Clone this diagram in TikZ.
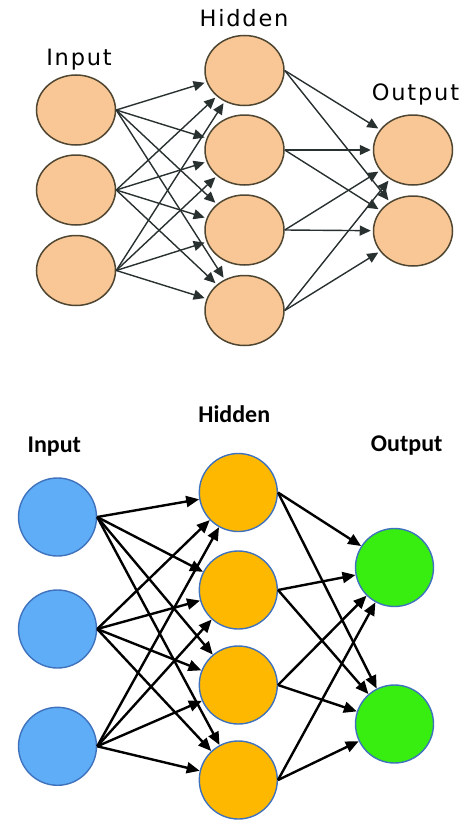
\documentclass[tikz,border=0pt]{standalone}
\usepackage{fontspec}
\usepackage{tikz}
\usetikzlibrary{arrows.meta,shapes.geometric}
\newfontfamily\toplabelfont[LetterSpace=8]{DejaVu Sans}
\newfontfamily\botlabelfont{Carlito}
\definecolor{peach}{HTML}{F9C796}
\definecolor{peachline}{HTML}{4F4632}
\definecolor{topedge}{HTML}{283030}
\definecolor{inblue}{HTML}{5EADF6}
\definecolor{hidorange}{HTML}{FFB800}
\definecolor{outgreen}{HTML}{38EE10}
\definecolor{rimblue}{HTML}{3F72BD}

\begin{document}
\begin{tikzpicture}[x=1bp,y=-1bp,
    topneuron/.style={ellipse,draw=peachline,line width=1.5bp,fill=peach,
      minimum width=79bp,minimum height=70bp,inner sep=0pt},
    botneuron/.style={circle,draw=rimblue,line width=1.4bp,
      minimum size=78bp,inner sep=0pt},
    topedgeline/.style={draw=topedge,line width=1.4bp,shorten >=2bp,
      -{Triangle[length=11bp,width=10bp]}},
    botedgeline/.style={draw=black,line width=2.4bp,
      -{Triangle[length=13bp,width=11bp]}},
    toplabel/.style={anchor=base,font=\toplabelfont\fontsize{22.5bp}{26bp}\selectfont},
    botlabel/.style={anchor=base,font=\botlabelfont\bfseries\fontsize{24bp}{29bp}\selectfont}]
    \useasboundingbox (0,0) rectangle (474,834);
    % upper network
    \node[toplabel] (tin) at (79,65) {Input};
    \node[toplabel] (thid) at (244,26.7) {Hidden};
    \node[toplabel] (tout) at (415.5,100.7) {Output};
    \node[topneuron] (ti1) at (76,110) {};
    \node[topneuron] (ti2) at (76,190) {};
    \node[topneuron] (ti3) at (76,270.5) {};
    \node[topneuron] (th1) at (244.5,70.5) {};
    \node[topneuron] (th2) at (244.5,150) {};
    \node[topneuron] (th3) at (244.5,230) {};
    \node[topneuron] (th4) at (244.5,310.5) {};
    \node[topneuron] (to1) at (413,150) {};
    \node[topneuron] (to2) at (413,231) {};
    \foreach \i in {1,2,3}
      \foreach \h in {1,2,3,4}
        \draw[topedgeline] (ti\i.east) -- (th\h);
    \foreach \h in {1,2,3,4}
      \foreach \o in {1,2}
        \draw[topedgeline] (th\h.east) -- (to\o);
    % lower network
    \node[botlabel] (bin) at (54.3,452.7) {Input};
    \node[botlabel] (bhid) at (234.3,422.7) {Hidden};
    \node[botlabel] (bout) at (406.7,451.7) {Output};
    \node[botneuron,fill=inblue] (bi1) at (57.5,517) {};
    \node[botneuron,fill=inblue] (bi2) at (57.5,629) {};
    \node[botneuron,fill=inblue] (bi3) at (57.5,746.3) {};
    \node[botneuron,fill=hidorange] (bh1) at (238.3,492.5) {};
    \node[botneuron,fill=hidorange] (bh2) at (238.3,590) {};
    \node[botneuron,fill=hidorange] (bh3) at (238.3,685) {};
    \node[botneuron,fill=hidorange] (bh4) at (238.3,780) {};
    \node[botneuron,fill=outgreen] (bo1) at (394.5,567.5) {};
    \node[botneuron,fill=outgreen] (bo2) at (394.5,724) {};
    \foreach \i in {1,2,3}
      \foreach \h in {1,2,3,4}
        \draw[botedgeline] (bi\i.east) -- (bh\h);
    \foreach \h in {1,2,3,4}
      \foreach \o in {1,2}
        \draw[botedgeline] (bh\h.east) -- (bo\o);
\end{tikzpicture}
\end{document}
